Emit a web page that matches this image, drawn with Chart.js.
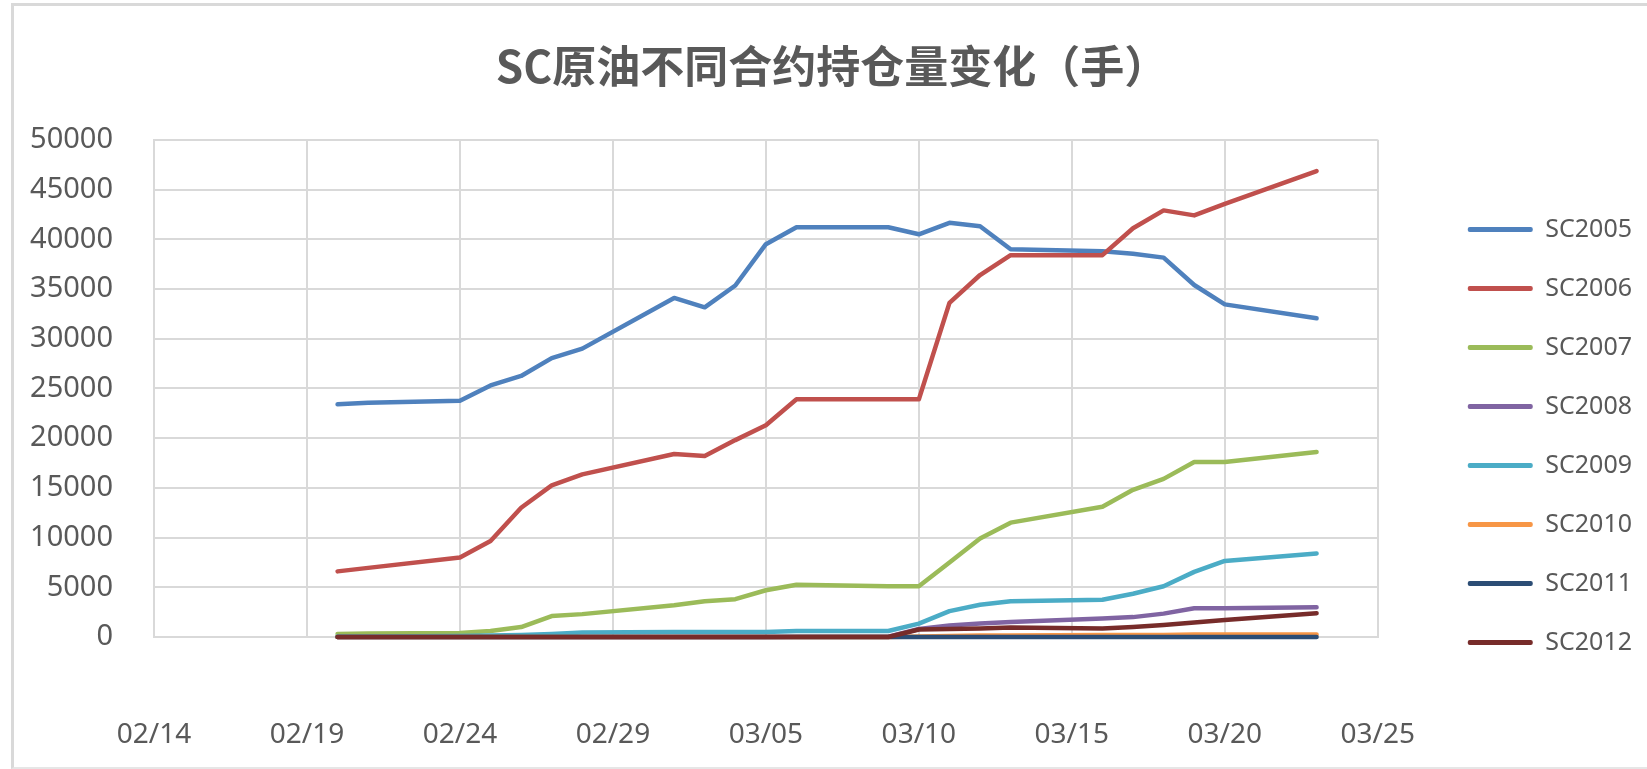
<!DOCTYPE html>
<html>
<head>
<meta charset="utf-8">
<title>SC原油不同合约持仓量变化（手）</title>
<script src="https://cdn.jsdelivr.net/npm/chart.js@4/dist/chart.umd.min.js"></script>
<style>
  body { margin: 0; background: #fff; overflow: hidden; }
  #wrap { position: relative; width: 1647px; height: 769px; }
  #frame { position: absolute; left: 11px; top: 3px; width: 1700px; height: 761px;
           border-left: 3px solid #d9d9d9; border-top: 3px solid #d9d9d9; border-bottom: 2px solid #e6e6e6;
           pointer-events: none; }
</style>
</head>
<body>
<div id="wrap">
  <canvas id="oiChart" width="1647" height="769"></canvas>
  <div id="frame"></div>
</div>
<script>
// trading days (2020)
const dates = ["02/20","02/21","02/24","02/25","02/26","02/27","02/28","03/02","03/03","03/04","03/05","03/06",
               "03/09","03/10","03/11","03/12","03/13","03/16","03/17","03/18","03/19","03/20","03/23"];
const xTickLabels = ["02/14","02/19","02/24","02/29","03/05","03/10","03/15","03/20","03/25"];

const sc2005 = [23400,23550,23750,25300,26250,28050,29000,34100,33150,35350,39500,41200,
                41200,40500,41650,41300,39000,38800,38550,38150,35400,33450,32050];
const sc2006 = [6600,6950,8000,9650,13000,15250,16350,18400,18200,19800,21300,23900,
                23900,23900,33600,36400,38400,38400,41100,42900,42400,43550,46850];
const sc2007 = [300,350,400,600,1000,2100,2300,3200,3600,3800,4700,5250,
                5100,5100,7500,9900,11500,13100,14800,15900,17600,17600,18600];
const sc2008 = [0,0,0,0,0,0,0,0,0,0,0,20,
                30,800,1150,1350,1500,1850,2000,2350,2900,2900,3000];
const sc2009 = [50,50,100,150,200,300,450,500,500,500,500,600,
                600,1350,2600,3250,3600,3750,4350,5100,6550,7650,8400];
const sc2010 = [0,0,0,0,0,0,0,0,0,0,0,0,
                0,50,100,150,150,200,200,200,250,250,250];
const sc2011 = [0,0,0,0,0,0,0,0,0,0,0,0,
                0,0,0,0,0,0,0,0,0,0,0];
const sc2012 = [0,0,0,0,0,0,0,0,0,0,0,0,
                0,750,800,850,950,850,1000,1200,1450,1700,2400];

const seriesNames = ["SC2005","SC2006","SC2007","SC2008","SC2009","SC2010","SC2011","SC2012"];
const seriesValues = [sc2005, sc2006, sc2007, sc2008, sc2009, sc2010, sc2011, sc2012];
const seriesColors = ["#4F81BD","#C0504D","#9BBB59","#8064A2","#4BACC6","#F79646","#2C4D75","#772C2A"];

const textColor = "#595959";
const gridColor = "#d9d9d9";
const tickFont = "'Noto Sans', 'Open Sans', sans-serif";

// days since 02/14, used as x on a linear axis
function dayOffset(str){
    const parts = str.split('/');
    return (Date.UTC(2020, parseInt(parts[0], 10) - 1, parseInt(parts[1], 10)) - Date.UTC(2020, 1, 14)) / 86400000;
}

const datasets = seriesNames.map((name, i) => ({
    label: name,
    data: dates.map((d, j) => ({x: dayOffset(d), y: seriesValues[i][j]})),
    borderColor: seriesColors[i],
    backgroundColor: seriesColors[i],
    borderWidth: 4.5,
    pointRadius: 0,
    tension: 0,
    borderCapStyle: 'round',
    borderJoinStyle: 'round',
    clip: 6,
    order: seriesNames.length - 1 - i   // later contracts drawn on top
}));

const ctx = document.getElementById('oiChart');
const oiChart = new Chart(ctx, {
    type: 'line',
    data: { datasets: datasets },
    options: {
        responsive: false,
        devicePixelRatio: 1,
        animation: false,
        layout: { padding: { left: 22, right: 5, top: 0, bottom: 0 } },
        plugins: {
            tooltip: { enabled: false },
            title: {
                display: true,
                text: 'SC原油不同合约持仓量变化（手）',
                color: textColor,
                font: { family: "'Noto Sans CJK SC', sans-serif", size: 44, weight: 'bold' },
                padding: { top: 40, bottom: 47 }
            },
            legend: {
                position: 'right',
                align: 'center',
                title: { display: true, text: '', font: { size: 10 }, padding: { top: 0, bottom: 91 } },
                labels: {
                    boxWidth: 65,
                    boxHeight: 5,
                    padding: 34,
                    color: textColor,
                    font: { family: tickFont, size: 25 },
                    sort: (a, b) => a.datasetIndex - b.datasetIndex,
                    generateLabels: chart => Chart.defaults.plugins.legend.labels.generateLabels(chart).map(item => {
                        item.lineWidth = 0;
                        item.borderRadius = 2;
                        return item;
                    })
                }
            }
        },
        scales: {
            x: {
                type: 'linear',
                min: 0,
                max: 40,
                ticks: {
                    stepSize: 5,
                    color: textColor,
                    font: { family: tickFont, size: 28 },
                    padding: 81,
                    maxRotation: 0,
                    callback: value => xTickLabels[value / 5]
                },
                grid: { color: gridColor, lineWidth: 2, drawTicks: false },
                border: { color: gridColor, width: 2 },
                afterFit: s => { s.height = 132; }
            },
            y: {
                min: 0,
                max: 50000,
                ticks: {
                    stepSize: 5000,
                    color: textColor,
                    font: { family: tickFont, size: 29 },
                    padding: 41,
                    callback: value => String(value)
                },
                grid: { color: gridColor, lineWidth: 2, drawTicks: false },
                border: { color: gridColor, width: 2 },
                afterFit: s => { s.width = 132; }
            },
            gap: {
                position: 'right',
                display: true,
                grid: { display: false },
                border: { display: false },
                ticks: { display: false },
                afterFit: s => { s.width = 56; }
            }
        }
    }
});
</script>
</body>
</html>
